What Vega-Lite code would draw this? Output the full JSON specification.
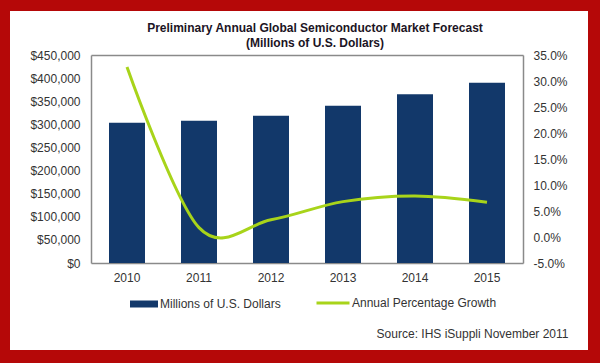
{
  "$schema": "https://vega.github.io/schema/vega-lite/v6.json",
  "width": 578,
  "height": 339,
  "autosize": {"type": "none"},
  "padding": {"left": 10, "top": 11, "right": 12, "bottom": 13},
  "background": "#b50808",
  "config": {
    "view": {"fill": "white", "stroke": null},
    "font": "Liberation Sans",
    "locale": {"number": {"decimal": ".", "thousands": ",", "grouping": [3], "currency": ["$", ""], "minus": "-"}},
    "axis": {"labelFont": "Liberation Sans", "labelFontSize": 12, "labelColor": "#333333", "grid": false, "ticks": false, "tickSize": 0, "domainColor": "#8a8a8a", "domainWidth": 1.5}
  },
  "title": {
    "text": ["Preliminary Annual Global Semiconductor Market Forecast", "(Millions of U.S. Dollars)"],
    "font": "Liberation Sans",
    "fontSize": 12,
    "fontWeight": "bold",
    "color": "#1c1424",
    "anchor": "middle",
    "frame": "group",
    "baseline": "top",
    "offset": -39,
    "dx": 16,
    "lineHeight": 15
  },
  "data": {"values": [
    {"year": "2010", "revenue": 303500, "growth": 0.327},
    {"year": "2011", "revenue": 307800, "growth": 0.018},
    {"year": "2012", "revenue": 318700, "growth": 0.033},
    {"year": "2013", "revenue": 340300, "growth": 0.068},
    {"year": "2014", "revenue": 365000, "growth": 0.079},
    {"year": "2015", "revenue": 390000, "growth": 0.067}
  ]},
  "layer": [
    {
      "mark": {"type": "bar"},
      "encoding": {
        "x": {"field": "year", "type": "nominal",
          "scale": {"range": [81, 513], "paddingInner": 0.5, "paddingOuter": 0.25},
          "axis": {"orient": "bottom", "offset": -87, "labelAngle": 0, "labelPadding": 9,
            "title": "Source: IHS iSuppli November 2011", "titleFont": "Liberation Sans", "titleFontSize": 12, "titleFontWeight": "normal", "titleColor": "#333333",
            "titleX": 558, "titleY": 70, "titleAlign": "right", "titleBaseline": "middle", "titleAnchor": "end"}},
        "y": {"field": "revenue", "type": "quantitative",
          "scale": {"domain": [0, 450000], "range": [252, 44], "nice": false, "zero": true},
          "axis": {"orient": "left", "offset": -81, "values": [0, 50000, 100000, 150000, 200000, 250000, 300000, 350000, 400000, 450000], "format": "$,.0f", "labelPadding": 11, "title": null}},
        "color": {"datum": "Millions of U.S. Dollars", "scale": {"range": ["#12386a"]},
          "legend": {"orient": "none", "legendX": 120, "legendY": 279, "title": null, "padding": 0,
            "symbolType": "M-1,-0.25H1V0.25H-1Z", "symbolSize": 784, "symbolStrokeWidth": 0,
            "labelFont": "Liberation Sans", "labelFontSize": 12, "labelColor": "#333333", "labelOffset": 2}}
      }
    },
    {
      "mark": {"type": "line", "interpolate": "cardinal", "strokeWidth": 3},
      "encoding": {
        "x": {"field": "year", "type": "nominal",
          "axis": {"orient": "top", "offset": -44, "labels": false, "title": null}},
        "y": {"field": "growth", "type": "quantitative",
          "scale": {"domain": [-0.05, 0.35], "range": [252, 44], "nice": false, "zero": false},
          "axis": {"orient": "right", "offset": -65, "values": [-0.05, 0, 0.05, 0.1, 0.15, 0.2, 0.25, 0.3, 0.35], "format": ".1%", "labelPadding": 10, "title": null}},
        "stroke": {"datum": "Annual Percentage Growth", "scale": {"range": ["#a8d41a"]},
          "legend": {"orient": "none", "legendX": 305, "legendY": 274, "title": null, "padding": 0,
            "symbolType": "stroke", "symbolSize": 1089, "symbolStrokeWidth": 3,
            "labelFont": "Liberation Sans", "labelFontSize": 12, "labelColor": "#333333", "labelOffset": 1}}
      }
    }
  ],
  "resolve": {"scale": {"y": "independent"}, "axis": {"x": "independent"}}
}
